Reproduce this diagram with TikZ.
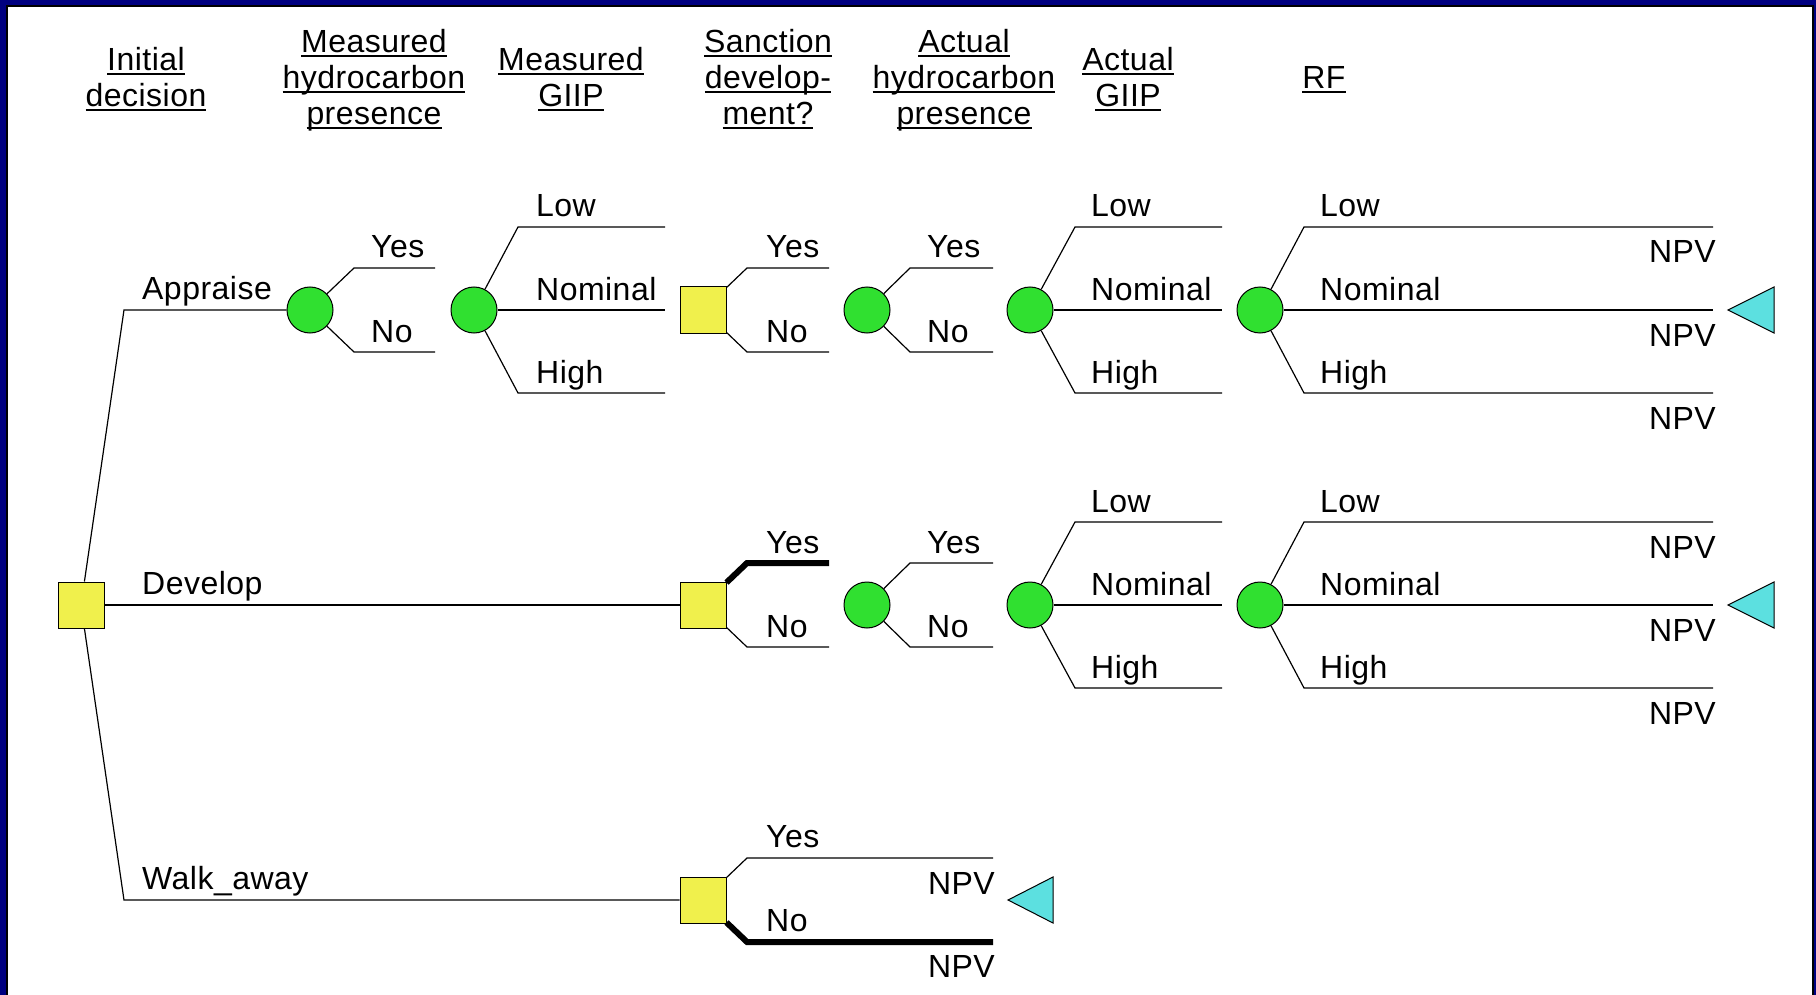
\documentclass[tikz,border=0pt]{standalone}
\usepackage{fontspec}
\setmainfont[LetterSpace=1.5]{Liberation Sans}
\definecolor{framenavy}{RGB}{0,0,128}
\definecolor{decyellow}{RGB}{240,240,76}
\definecolor{chgreen}{RGB}{48,224,48}
\definecolor{endcyan}{RGB}{92,224,224}
% underlined header word at a fixed depth below the baseline
\newcommand\uln[1]{\setbox0=\hbox{#1}\rlap{\rule[-4.4pt]{\wd0}{2pt}}\box0}
\begin{document}
\begin{tikzpicture}[x=1pt,y=-1pt,
  every node/.style={font=\fontsize{32}{36}\selectfont, inner sep=0pt},
  decbox/.style={rectangle, draw=black, line width=1pt, fill=decyellow, minimum size=46pt},
  chance/.style={circle, draw=black, line width=1pt, fill=chgreen, minimum size=46pt},
  branch/.style={draw=black, line width=1.2pt},
  chosen/.style={draw=black, line width=6pt},
  lbl/.style={anchor=base west},
  npv/.style={anchor=base east},
  hdr/.style={anchor=base},
  endtri/.style={draw=black, line width=1pt, fill=endcyan}]
\useasboundingbox (0,0) rectangle (1816,995);
% frame
\fill[framenavy] (0,0) rectangle (1816,995);
\fill[white] (7,6) rectangle (1813,995);
\draw[black, line width=1.4pt] (7,995) -- (7,6) -- (1813,6) -- (1813,995);

% column headers
\node[hdr] (h1a) at (146,71) {\uln{Initial}};
\node[hdr] (h1b) at (146,107) {\uln{decision}};
\node[hdr] (h2a) at (374,53) {\uln{Measured}};
\node[hdr] (h2b) at (374,89) {\uln{hydrocarbon}};
\node[hdr] (h2c) at (374,125) {\uln{presence}};
\node[hdr] (h3a) at (571,71) {\uln{Measured}};
\node[hdr] (h3b) at (571,107) {\uln{GIIP}};
\node[hdr] (h4a) at (768,53) {\uln{Sanction}};
\node[hdr] (h4b) at (768,89) {\uln{develop-}};
\node[hdr] (h4c) at (768,125) {\uln{ment?}};
\node[hdr] (h5a) at (964,53) {\uln{Actual}};
\node[hdr] (h5b) at (964,89) {\uln{hydrocarbon}};
\node[hdr] (h5c) at (964,125) {\uln{presence}};
\node[hdr] (h6a) at (1128,71) {\uln{Actual}};
\node[hdr] (h6b) at (1128,107) {\uln{GIIP}};
\node[hdr] (h7) at (1324,89) {\uln{RF}};

% decision and chance nodes
\node[decbox] (R) at (81,605) {};
\node[chance] (c1) at (310,310) {};
\node[chance] (c2) at (474,310) {};
\node[decbox] (s1) at (703,310) {};
\node[chance] (c3) at (867,310) {};
\node[chance] (c4) at (1030,310) {};
\node[chance] (c5) at (1260,310) {};
\node[decbox] (s2) at (703,605) {};
\node[chance] (c6) at (867,605) {};
\node[chance] (c7) at (1030,605) {};
\node[chance] (c8) at (1260,605) {};
\node[decbox] (s3) at (703,900) {};

% initial decision
\draw[branch] (R) -- (124,310) -- (c1);
\draw[branch] (R) -- (s2);
\draw[branch] (R) -- (124,900) -- (s3);
\node[lbl] (lApp) at (142,299) {Appraise};
\node[lbl] (lDev) at (142,594) {Develop};
\node[lbl] (lWalk) at (142,889) {Walk\_away};

% appraise branch
\draw[branch] (c1) -- (354,268) -- (435,268);
\draw[branch] (c1) -- (354,352) -- (435,352);
\node[lbl] (y1) at (371,258) {Yes};
\node[lbl] (n1) at (371,342) {No};

\draw[branch] (c2) -- (518,227) -- (665,227);
\draw[branch] (c2) -- (665,310);
\draw[branch] (c2) -- (518,393) -- (665,393);
\node[lbl] (lo2) at (536,217) {Low};
\node[lbl] (no2) at (536,300) {Nominal};
\node[lbl] (hi2) at (536,383) {High};

\draw[branch] (s1) -- (747,268) -- (829,268);
\draw[branch] (s1) -- (747,352) -- (829,352);
\node[lbl] (ys1) at (766,258) {Yes};
\node[lbl] (ns1) at (766,342) {No};

\draw[branch] (c3) -- (910,268) -- (993,268);
\draw[branch] (c3) -- (910,352) -- (993,352);
\node[lbl] (y3) at (927,258) {Yes};
\node[lbl] (n3) at (927,342) {No};

\draw[branch] (c4) -- (1075,227) -- (1222,227);
\draw[branch] (c4) -- (1222,310);
\draw[branch] (c4) -- (1075,393) -- (1222,393);
\node[lbl] (lo4) at (1091,217) {Low};
\node[lbl] (no4) at (1091,300) {Nominal};
\node[lbl] (hi4) at (1091,383) {High};

\draw[branch] (c5) -- (1304,227) -- (1713,227);
\draw[branch] (c5) -- (1713,310);
\draw[branch] (c5) -- (1304,393) -- (1713,393);
\node[lbl] (lo5) at (1320,217) {Low};
\node[lbl] (no5) at (1320,300) {Nominal};
\node[lbl] (hi5) at (1320,383) {High};
\node[npv] (v1) at (1716,263) {NPV};
\node[npv] (v2) at (1716,346) {NPV};
\node[npv] (v3) at (1716,429) {NPV};
\draw[endtri] (1728,310) coordinate (t1) -- (1774,287) -- (1774,333) -- cycle;

% develop branch
\draw[chosen] (s2) -- (747,563) -- (829,563);
\draw[branch] (s2) -- (747,647) -- (829,647);
\node[lbl] (ys2) at (766,553) {Yes};
\node[lbl] (ns2) at (766,637) {No};

\draw[branch] (c6) -- (910,563) -- (993,563);
\draw[branch] (c6) -- (910,647) -- (993,647);
\node[lbl] (y6) at (927,553) {Yes};
\node[lbl] (n6) at (927,637) {No};

\draw[branch] (c7) -- (1075,522) -- (1222,522);
\draw[branch] (c7) -- (1222,605);
\draw[branch] (c7) -- (1075,688) -- (1222,688);
\node[lbl] (lo7) at (1091,512) {Low};
\node[lbl] (no7) at (1091,595) {Nominal};
\node[lbl] (hi7) at (1091,678) {High};

\draw[branch] (c8) -- (1304,522) -- (1713,522);
\draw[branch] (c8) -- (1713,605);
\draw[branch] (c8) -- (1304,688) -- (1713,688);
\node[lbl] (lo8) at (1320,512) {Low};
\node[lbl] (no8) at (1320,595) {Nominal};
\node[lbl] (hi8) at (1320,678) {High};
\node[npv] (v4) at (1716,558) {NPV};
\node[npv] (v5) at (1716,641) {NPV};
\node[npv] (v6) at (1716,724) {NPV};
\draw[endtri] (1728,605) coordinate (t2) -- (1774,582) -- (1774,628) -- cycle;

% walk away branch
\draw[branch] (s3) -- (747,858) -- (993,858);
\draw[chosen] (s3) -- (747,942) -- (993,942);
\node[lbl] (ys3) at (766,847) {Yes};
\node[lbl] (ns3) at (766,931) {No};
\node[npv] (v7) at (995,894) {NPV};
\node[npv] (v8) at (995,977) {NPV};
\draw[endtri] (1008,900) coordinate (t3) -- (1053,877) -- (1053,923) -- cycle;
\end{tikzpicture}
\end{document}
